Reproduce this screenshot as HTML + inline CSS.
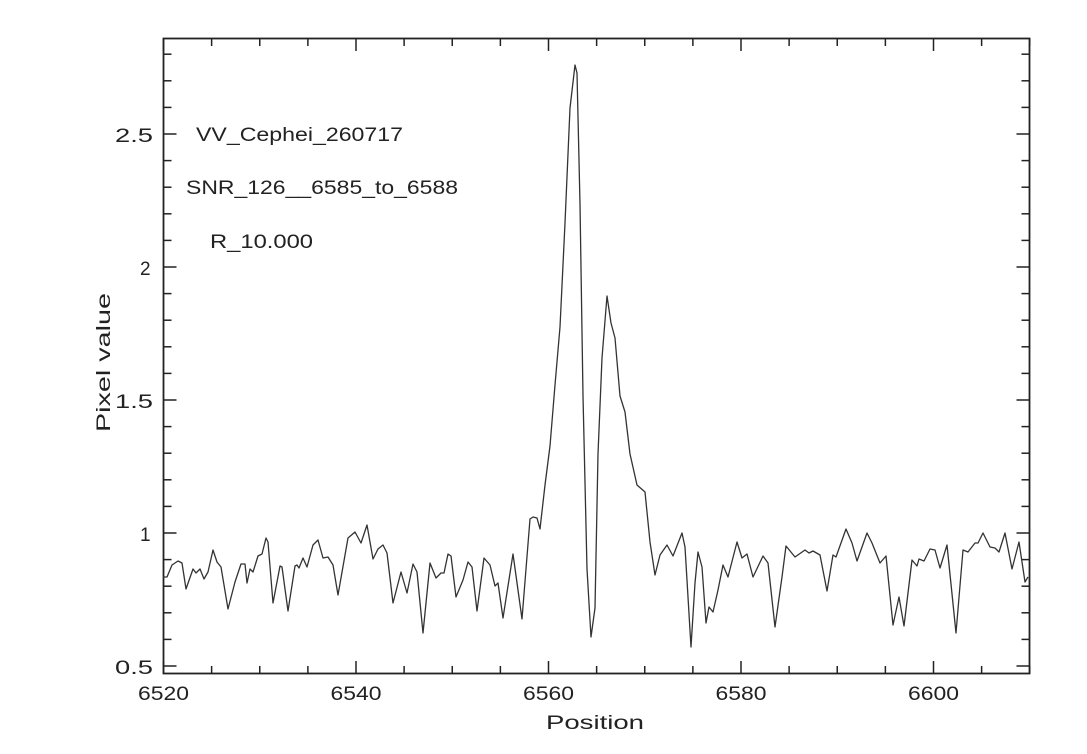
<!DOCTYPE html>
<html><head><meta charset="utf-8"><style>
html,body{margin:0;padding:0;background:#fff;}
svg{display:block;}
text{font-family:"Liberation Sans",sans-serif;fill:#222;}
</style></head><body>
<svg id="s" width="1087" height="754" viewBox="0 0 1087 754" xmlns="http://www.w3.org/2000/svg">
<rect x="163.5" y="38.5" width="866" height="635" fill="none" stroke="#222" stroke-width="1.8"/>
<g id="ticks" stroke="#222" stroke-width="1.5"></g>
<polyline fill="none" stroke="#333" stroke-width="1.3" stroke-linejoin="round" points="
163,577 167,577 172,565 178,561 182,563 186,589 193,569 196,573 200,569 204,579 208,572 213,550 217,562 221,567 228,609 235,582 241,564 245,564 247,583 250,569 253,572 258,556 262,554 266,538 268,542 273,603 280,566 282,567 288,611 295,566 297,565 299,568 303,558 307,567 313,545 318,540 323,558 328,557 333,565 338,595 348,538 355,532 361,543 367,525 373,559 378,549 383,545 387,553 393,603 401,572 407,593 413,564 417,572 423,633 430,563 436,578 441,573 444,573 448,554 451,556 456,597 463,580 468,562 472,567 477,611 484,558 490,565 495,586 498,583 503,618 513,554 522,619 530,519 533,517 537,518 540,529 545,485 550,446 555,385 560,327 565,223 570,108 575,65 577,73 580,204 583,396 587,569 591,637 595,608 598,454 602,358 607,296 611,323 615,338 620,396 625,412 630,454 637,485 645,492 650,542 655,575 660,555 667,545 673,556 682,533 685,547 691,647 695,583 698,552 702,567 706,623 709,607 713,612 718,590 723,565 728,577 737,542 742,558 747,554 753,577 763,556 768,563 775,627 782,577 786,546 795,557 805,550 809,553 813,551 820,555 827,591 833,555 836,557 846,529 852,543 857,561 867,533 872,543 880,563 886,556 893,625 899,597 904,626 912,560 917,566 919,559 924,561 930,549 935,550 940,568 947,545 956,633 963,550 968,552 975,543 978,543 983,533 990,547 995,548 999,552 1005,533 1012,569 1019,542 1025,582 1028,577"/>
<g font-size="19">
<text x="196" y="141" textLength="207" lengthAdjust="spacingAndGlyphs">VV_Cephei_260717</text>
<text x="186" y="194" textLength="272" lengthAdjust="spacingAndGlyphs">SNR_126__6585_to_6588</text>
<text x="210" y="248" textLength="103" lengthAdjust="spacingAndGlyphs">R_10.000</text>
</g>
<g font-size="19">
<text x="115" y="674" textLength="38" lengthAdjust="spacingAndGlyphs">0.5</text>
<text x="140" y="541">1</text>
<text x="115" y="408" textLength="38" lengthAdjust="spacingAndGlyphs">1.5</text>
<text x="140" y="275">2</text>
<text x="115" y="142" textLength="38" lengthAdjust="spacingAndGlyphs">2.5</text>
</g>
<g font-size="19">
<text x="138" y="700" textLength="51" lengthAdjust="spacingAndGlyphs">6520</text>
<text x="330.5" y="700" textLength="51" lengthAdjust="spacingAndGlyphs">6540</text>
<text x="523" y="700" textLength="51" lengthAdjust="spacingAndGlyphs">6560</text>
<text x="715.5" y="700" textLength="51" lengthAdjust="spacingAndGlyphs">6580</text>
<text x="908" y="700" textLength="51" lengthAdjust="spacingAndGlyphs">6600</text>
<text x="546" y="729" textLength="98" lengthAdjust="spacingAndGlyphs">Position</text>
<text transform="translate(110,432) rotate(-90)" textLength="139" lengthAdjust="spacingAndGlyphs">Pixel value</text>
</g>
</svg>
<script>
var g=document.getElementById('ticks'),h='';
for(var i=0;i<=18;i++){var x=163.5+i*5*9.625,L=(i%4==0)?13:8;
h+='<line x1="'+x+'" y1="674" x2="'+x+'" y2="'+(674-L)+'"/>';
h+='<line x1="'+x+'" y1="38" x2="'+x+'" y2="'+(38+L)+'"/>';}
for(var j=0;j<=23;j++){var y=666-j*26.6,L=(j%5==0)?13:8;
h+='<line x1="163.5" y1="'+y+'" x2="'+(163.5+L)+'" y2="'+y+'"/>';
h+='<line x1="1029.5" y1="'+y+'" x2="'+(1029.5-L)+'" y2="'+y+'"/>';}
g.innerHTML=h;
</script>
</body></html>
